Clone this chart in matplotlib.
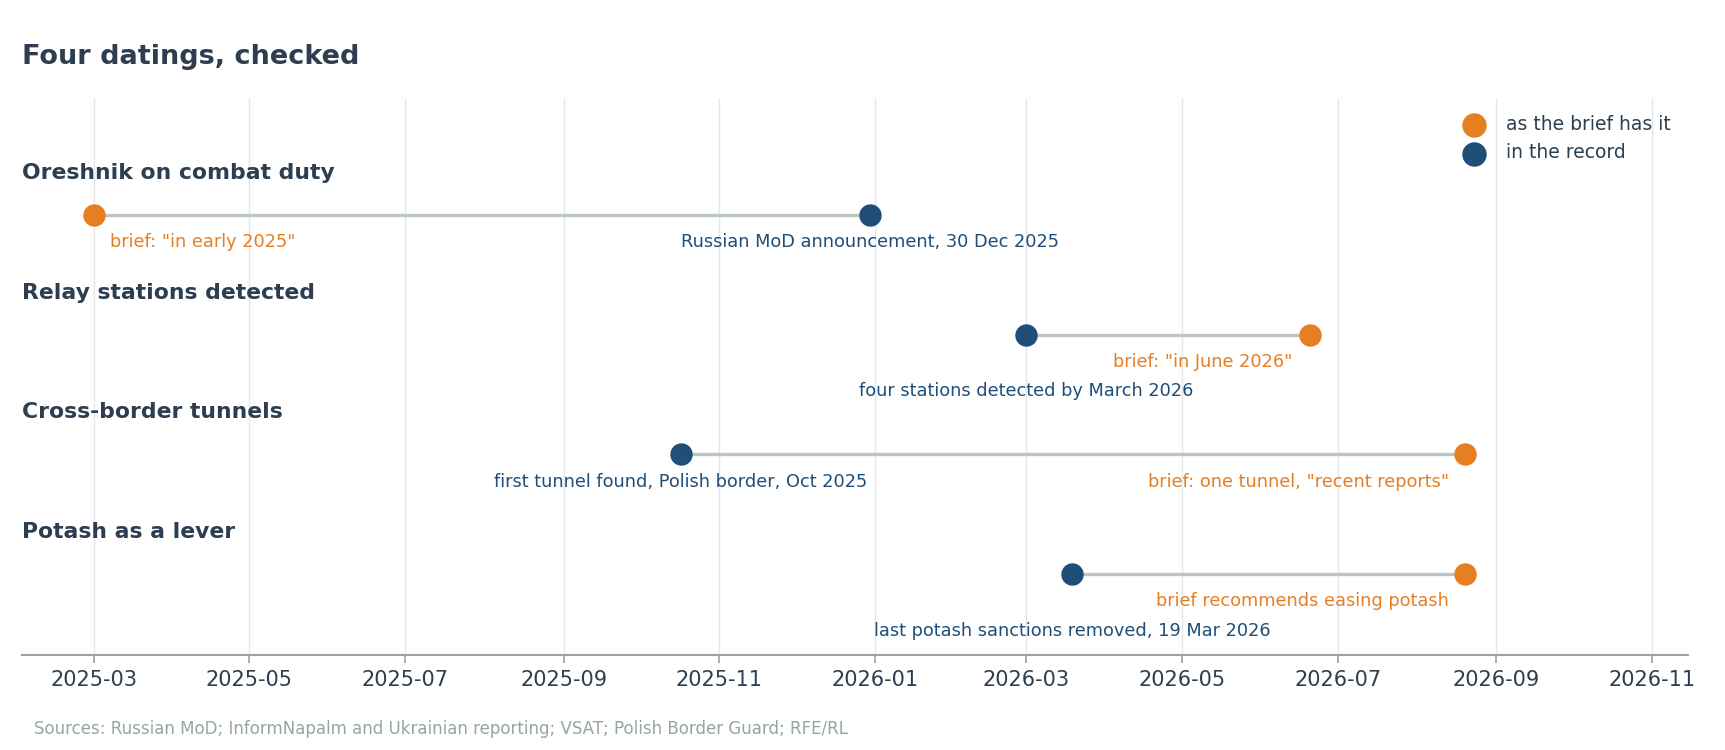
import pandas as pd
import matplotlib.pyplot as plt
import matplotlib.dates as mdates

events = ["Oreshnik on combat duty", "Relay stations detected",
          "Cross-border tunnels", "Potash as a lever"]
brief_dates = pd.to_datetime(["2025-03-01", "2026-06-20", "2026-08-20", "2026-08-20"])
record_dates = pd.to_datetime(["2025-12-30", "2026-03-01", "2025-10-17", "2026-03-19"])
brief_notes = ['brief: "in early 2025"', 'brief: "in June 2026"',
               'brief: one tunnel, "recent reports"', 'brief recommends easing potash']
record_notes = ["Russian MoD announcement, 30 Dec 2025", "four stations detected by March 2026",
                "first tunnel found, Polish border, Oct 2025", "last potash sanctions removed, 19 Mar 2026"]

ORANGE = "#E67E22"
BLUE = "#1F4E79"
DARK = "#2C3E50"
GREY = "#95A5A6"

# label placement per row
brief_side = ["left", "right", "right", "right"]
record_drop = [False, True, False, True]

fig = plt.figure(figsize=(11.5, 5), dpi=150)
ax = fig.add_axes([0.0128, 0.127, 0.9655, 0.742])

for i in range(len(events)):
    ax.plot([brief_dates[i], record_dates[i]], [i, i], color="#BCC6C4", lw=1.6, zorder=2)

ax.scatter(brief_dates, range(len(events)), s=95, color=ORANGE, zorder=3, label="as the brief has it")
ax.scatter(record_dates, range(len(events)), s=95, color=BLUE, zorder=3, label="in the record")

for i, name in enumerate(events):
    ax.text(0, i - 0.35, name, transform=ax.get_yaxis_transform(), ha="left", va="center",
            fontsize=10.5, fontweight="bold", color=DARK)
    dx = 8 if brief_side[i] == "left" else -8
    ax.annotate(brief_notes[i], (brief_dates[i], i), xytext=(dx, -13), textcoords="offset points",
                ha=brief_side[i], va="center", fontsize=8.5, color=ORANGE)
    dy = -27 if record_drop[i] else -13
    ax.annotate(record_notes[i], (record_dates[i], i), xytext=(0, dy), textcoords="offset points",
                ha="center", va="center", fontsize=8.5, color=BLUE)

ax.set_xlim(pd.Timestamp("2025-02-01"), pd.Timestamp("2026-11-15"))
ax.set_ylim(3.67, -0.97)
ax.xaxis.set_major_locator(mdates.MonthLocator(bymonth=[1, 3, 5, 7, 9, 11]))
ax.xaxis.set_major_formatter(mdates.DateFormatter("%Y-%m"))
ax.set_yticks([])
ax.grid(axis="x", color="#E5E8EA", lw=0.7)
ax.set_axisbelow(True)
for s in ["top", "left", "right"]:
    ax.spines[s].set_visible(False)
ax.spines["bottom"].set_color(GREY)
ax.spines["bottom"].set_linewidth(1.0)
ax.tick_params(axis="x", colors=GREY, labelcolor=DARK, labelsize=10, length=4)

ax.legend(loc="upper right", frameon=False, fontsize=9, labelcolor=DARK, markerscale=1.1,
          handletextpad=0.7, labelspacing=0.5, borderaxespad=0.5, bbox_to_anchor=(1.0, 1.0))

fig.text(0.0128, 0.924, "Four datings, checked", fontsize=13, fontweight="bold", color=DARK,
         ha="left", va="center")
fig.text(0.02, 0.028, "Sources: Russian MoD; InformNapalm and Ukrainian reporting; VSAT; Polish Border Guard; RFE/RL",
         fontsize=8, color=GREY, ha="left", va="center")

plt.savefig("out.png", dpi=150)
